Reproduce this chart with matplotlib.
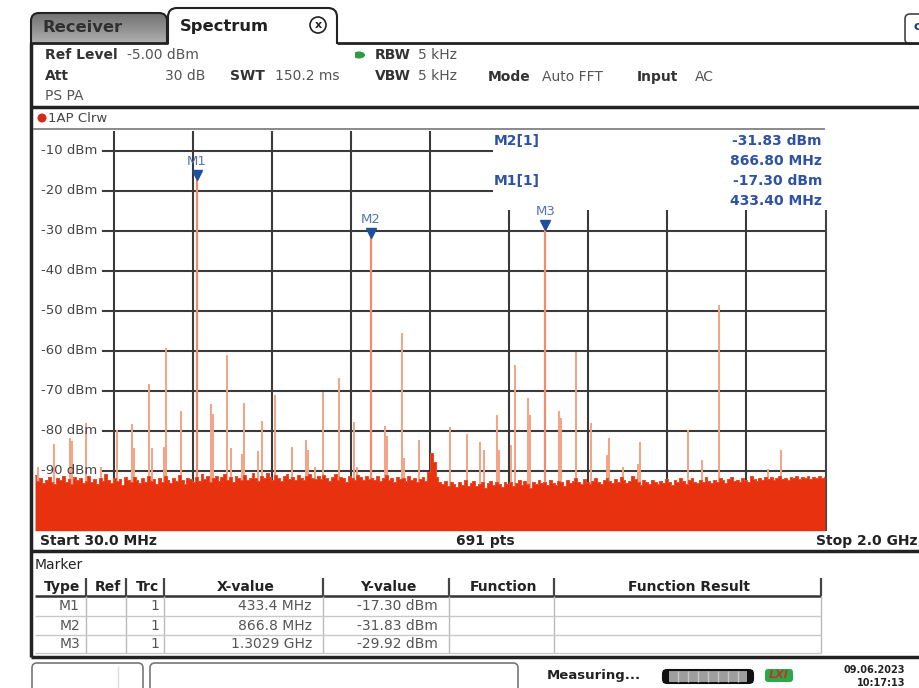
import numpy as np
import matplotlib.pyplot as plt
from matplotlib.colors import LinearSegmentedColormap
from matplotlib.patches import FancyBboxPatch, Rectangle, Circle, Ellipse

W, H = 919, 688

# sweep settings
f_start, f_stop = 30.0, 2000.0
ref_level = -5.0
bottom_level = -105.0

# noise floor (dBm), evenly spaced over the sweep
noise_dbm = [
    -91.0, -92.6, -91.9, -93.1, -92.2, -91.5, -92.8, -93.4, -91.8, -92.3, -91.2, -92.9, -92.0, -93.2, -91.6, -92.4, -91.9, -93.0, -92.5, -91.4,
    -92.7, -92.1, -93.3, -91.7, -92.5, -90.9, -92.2, -93.0, -91.8, -92.6, -92.0, -93.5, -91.6, -92.3, -92.9, -91.5, -92.4, -93.1, -91.9, -92.7,
    -91.3, -92.5, -92.0, -93.2, -91.7, -92.8, -91.4, -92.2, -93.0, -91.9, -92.6, -91.1, -92.4, -93.3, -91.8, -92.1, -92.9, -91.6, -92.5, -90.7,
    -92.0, -91.4, -92.7, -91.9, -91.2, -92.5, -91.6, -90.8, -92.2, -91.5, -92.8, -91.3, -91.9, -92.4, -91.0, -92.3, -91.7, -90.6, -91.8, -92.5,
    -91.2, -91.9, -90.5, -91.6, -92.3, -91.1, -91.8, -92.6, -91.4, -90.9, -92.0, -91.5, -92.2, -91.0, -91.7, -92.4, -91.3, -90.8, -91.9, -92.1,
    -91.4, -92.0, -91.1, -91.8, -92.5, -91.6, -90.9, -92.2, -91.5, -91.9, -92.7, -91.2, -91.8, -92.3, -91.0, -91.6, -92.4, -91.3, -92.0, -91.7,
    -92.2, -91.4, -92.6, -91.8, -91.1, -92.3, -91.7, -92.9, -91.5, -92.1, -91.9, -92.6, -91.3, -92.4, -91.8, -92.8, -92.1, -91.6, -92.5, -90.2,
    -85.5, -87.8, -91.5, -92.7, -93.4, -92.5, -93.8, -92.9, -93.3, -94.1, -92.8, -93.5, -92.4, -93.7, -93.0, -92.6, -93.9, -93.2, -92.7, -94.2,
    -93.1, -92.5, -93.6, -92.9, -93.3, -94.0, -92.7, -93.4, -92.8, -93.9, -93.0, -92.3, -93.5, -92.6, -93.2, -94.3, -92.9, -93.4, -92.4, -93.1,
    -92.8, -93.5, -92.2, -93.0, -93.6, -92.5, -92.9, -93.8, -92.4, -93.1, -92.6, -91.9, -92.8, -93.4, -92.1, -92.7, -93.3, -92.5, -91.8, -92.9,
    -93.2, -92.4, -91.7, -92.6, -93.1, -92.0, -92.8, -91.5, -92.3, -93.0, -92.6, -91.2, -92.1, -92.9, -93.5, -92.4, -92.8, -93.3, -92.2, -92.7,
    -93.4, -92.5, -93.0, -92.1, -92.8, -93.6, -92.3, -92.9, -91.8, -92.6, -93.2, -92.4, -91.9, -92.7, -93.1, -92.3, -92.8, -91.6, -92.5, -93.0,
    -92.2, -92.7, -91.9, -92.4, -93.1, -92.0, -91.5, -92.6, -92.2, -92.9, -91.8, -92.3, -92.7, -91.4, -92.1, -92.6, -91.7, -92.2, -91.5, -92.0,
    -91.6, -92.3, -91.8, -91.2, -92.0, -91.7, -92.4, -91.5, -91.9, -91.3, -92.1, -91.6, -91.9, -91.4, -92.0, -91.5, -91.8, -91.3, -91.7, -91.5,
]

# spurious lines (MHz, dBm)
spike_mhz = [37.5, 76.6, 118.0, 123.5, 157.9, 195.3, 234.5, 271.9, 276.1, 313.5,
             321.8, 350.9, 355.9, 394.8, 469.6, 473.9, 509.5, 519.5, 546.9, 551.2,
             585.4, 595.3, 628.5, 670.1, 705.8, 711.5, 728.2, 748.9, 788.1, 825.5,
             832.2, 902.8, 908.5, 944.4, 950.2, 987.6, 1064.1, 1107.3, 1140.5, 1148.9,
             1182.8, 1187.1, 1217.8, 1226.2, 1259.4, 1263.6, 1336.7, 1342.5, 1379.9, 1417.3,
             1457.2, 1461.4, 1496.3, 1534.5, 1538.7, 1659.2, 1693.3, 1736.5, 1857.2, 1890.4]
spike_dbm = [-89.0, -83.2, -81.7, -82.5, -78.0, -89.0, -79.8, -78.3, -84.4, -68.2,
             -84.3, -84.0, -59.2, -75.1, -73.2, -75.7, -61.1, -84.4, -85.7, -73.0,
             -85.1, -77.5, -71.1, -84.0, -82.2, -84.7, -89.0, -70.2, -66.9, -77.7,
             -89.0, -78.8, -81.2, -55.5, -86.9, -82.2, -79.0, -80.7, -82.8, -84.8,
             -76.1, -84.8, -83.6, -63.6, -71.9, -76.1, -75.1, -76.9, -60.2, -78.0,
             -86.0, -81.9, -89.0, -88.2, -82.8, -79.7, -87.3, -48.6, -89.5, -84.8]

marker_names = ["M1", "M2", "M3"]
marker_mhz = [433.4, 866.8, 1302.9]
marker_dbm = [-17.30, -31.83, -29.92]
marker_xval = ["433.4 MHz", "866.8 MHz", "1.3029 GHz"]
marker_yval = ["-17.30 dBm", "-31.83 dBm", "-29.92 dBm"]

grid_levels = [-10, -20, -30, -40, -50, -60, -70, -80, -90]

fig = plt.figure(figsize=(W / 100, H / 100), dpi=100)
bg = fig.add_axes([0, 0, 1, 1])
bg.set_xlim(0, W)
bg.set_ylim(H, 0)
bg.axis("off")

DARK = "#222222"


def txt(x, y, s, bold=False, size=10, color="#333333", ha="left"):
    bg.text(x, y, s, fontsize=size, fontweight="bold" if bold else "normal",
            color=color, ha=ha, va="center", zorder=4)


def hline(y, x0, x1, lw=2.0, color=DARK, z=3):
    bg.plot([x0, x1], [y, y], color=color, lw=lw, zorder=z, solid_capstyle="butt")


def vline(x, y0, y1, lw=2.0, color=DARK, z=3):
    bg.plot([x, x], [y0, y1], color=color, lw=lw, zorder=z, solid_capstyle="butt")


# --- tabs ---
rec = FancyBboxPatch((31, 13), 136, 40, boxstyle="round,pad=0,rounding_size=8",
                     fc="none", ec=DARK, lw=1.5, zorder=2)
bg.add_patch(rec)
grad = np.linspace(0, 1, 50).reshape(-1, 1)
tab_cmap = LinearSegmentedColormap.from_list("tab", ["#727272", "#9a9a9a", "#c4c4c4"])
im = bg.imshow(grad, extent=(31, 167, 53, 13), cmap=tab_cmap, aspect="auto", zorder=1)
im.set_clip_path(rec)
spec = FancyBboxPatch((168, 8), 169, 50, boxstyle="round,pad=0,rounding_size=9",
                      fc="white", ec=DARK, lw=1.5, zorder=2)
bg.add_patch(spec)
bg.add_patch(Rectangle((25, 44), 330, 20, fc="white", ec="none", zorder=2.5))
txt(42, 27, "Receiver", bold=True, size=11.8, color="#303030")
txt(180, 27, "Spectrum", bold=True, size=11.8, color="#202020")
bg.add_patch(Circle((318, 25), 8, fc="white", ec=DARK, lw=1.2, zorder=4))
bg.text(318, 25, "x", fontsize=8, fontweight="bold", ha="center", va="center", color=DARK, zorder=5)
bg.add_patch(FancyBboxPatch((905, 14), 20, 30, boxstyle="round,pad=0,rounding_size=5",
                            fc="white", ec="#444444", lw=1.2, zorder=3))
txt(913, 26, "c", bold=True, size=9, color="#1f3f80")

# frame lines
hline(43, 31, 168)
hline(43, 337, W)
hline(107, 31, W, lw=2.5)
vline(31, 43, 657, lw=2.5)
hline(128.5, 33, 825, lw=1.2, color="#777777")
vline(825.5, 210, 531, lw=1.5, color="#444444")
hline(551, 31, W, lw=2.5)
hline(656.5, 31, W, lw=2.5)

# --- header settings ---
txt(45, 55, "Ref Level", bold=True)
txt(127, 55, "-5.00 dBm", color="#555555")
txt(45, 76, "Att", bold=True)
txt(165, 76, "30 dB", color="#555555")
txt(230, 76, "SWT", bold=True)
txt(275, 76, "150.2 ms", color="#555555")
bg.add_patch(Ellipse((359, 55), 12, 7, fc="#2e9b45", ec="none"))
txt(375, 55, "RBW", bold=True)
txt(418, 55, "5 kHz", color="#555555")
txt(375, 76, "VBW", bold=True)
txt(418, 76, "5 kHz", color="#555555")
txt(488, 77, "Mode", bold=True)
txt(542, 77, "Auto FFT", color="#555555")
txt(637, 77, "Input", bold=True)
txt(695, 77, "AC", color="#555555")
txt(45, 96, "PS PA", color="#555555")
bg.add_patch(Circle((42, 118), 4.5, fc="#d42a1a", ec="none"))
txt(48, 118, "1AP Clrw", size=9.5, color="#444444")

# --- spectrum diagram ---
ax = fig.add_axes([35 / W, 1 - 530.7 / H, 790 / W, 400 / H])
ax.set_xlim(f_start, f_stop)
ax.set_ylim(bottom_level, ref_level)
ax.axis("off")

div = (f_stop - f_start) / 10
div_f = [f_start + div * k for k in range(1, 10)]
f_label_end = 196.0
f_box_left = 1172.0
ax.hlines(grid_levels[:2], f_label_end, f_box_left, color="#3a3a3a", lw=1.5, zorder=1)
ax.hlines(grid_levels[2:], f_label_end, f_stop, color="#3a3a3a", lw=1.5, zorder=1)
ax.vlines(div_f[:5], bottom_level, ref_level, color="#3a3a3a", lw=1.5, zorder=1)
ax.vlines(div_f[5:], bottom_level, -24.8, color="#3a3a3a", lw=1.5, zorder=1)

for lev in grid_levels:
    ax.text(0.007, lev, f"{lev} dBm", transform=ax.get_yaxis_transform(),
            fontsize=9.5, color="#444444", va="center", ha="left", zorder=6)

ax.vlines(spike_mhz, -95, spike_dbm, color="#f5a283", lw=1.4, zorder=2)
ax.vlines(marker_mhz, -95, marker_dbm, color="#f28c6a", lw=1.6, zorder=2)

noise_f = np.linspace(f_start, f_stop, len(noise_dbm))
ax.fill_between(noise_f, bottom_level, noise_dbm, step="mid", color="#e8320f", lw=0, zorder=3)
ax.step(noise_f, noise_dbm, where="mid", color="#ec4a28", lw=0.7, zorder=3)

ax.plot(marker_mhz, np.array(marker_dbm) + 1.3, "v", color="#1d4f9c", ms=7, zorder=5)
for name, f, lev in zip(marker_names, marker_mhz, marker_dbm):
    ax.annotate(name, (f, lev), xytext=(0, 13.5), textcoords="offset points",
                ha="center", va="center", color="#5773b5", fontsize=9.5, zorder=6)

# marker info box
blue = "#2f52a3"
txt(494, 141, "M2[1]", bold=True, color=blue)
txt(822, 141, "-31.83 dBm", bold=True, color=blue, ha="right")
txt(822, 161, "866.80 MHz", bold=True, color=blue, ha="right")
txt(494, 181, "M1[1]", bold=True, color=blue)
txt(822, 181, "-17.30 dBm", bold=True, color=blue, ha="right")
txt(822, 201, "433.40 MHz", bold=True, color=blue, ha="right")

# footer of diagram
txt(40, 541, "Start 30.0 MHz", bold=True, color=DARK)
txt(485, 541, "691 pts", bold=True, color=DARK, ha="center")
txt(917, 541, "Stop 2.0 GHz", bold=True, color=DARK, ha="right")

# --- marker table ---
txt(35, 565, "Marker", color=DARK)
cols = [35, 86, 126, 164, 323, 449, 554, 821]
heads = ["Type", "Ref", "Trc", "X-value", "Y-value", "Function", "Function Result"]
for i, h in enumerate(heads):
    txt((cols[i] + cols[i + 1]) / 2 + 2, 587, h, bold=True, color=DARK, ha="center")
hline(596, 35, 821, lw=1.8, color="#333333")
for c in cols[1:]:
    vline(c, 578, 596, lw=1.6, color="#444444")
    vline(c, 596, 653, lw=1.0, color="#bbbbbb")
for y in [616, 635, 653]:
    hline(y, 35, 821, lw=1.0, color="#c8c8c8")
for i, (nm, xv, yv) in enumerate(zip(marker_names, marker_xval, marker_yval)):
    y = 606.5 + i * 19
    txt(80, y, nm, color="#555555", ha="right")
    txt(159, y, "1", color="#555555", ha="right")
    txt(312, y, xv, color="#555555", ha="right")
    txt(438, y, yv, color="#555555", ha="right")

# --- status bar ---
for x0, x1 in [(32, 143), (150, 518)]:
    bg.add_patch(FancyBboxPatch((x0, 663), x1 - x0, 35, boxstyle="round,pad=0,rounding_size=5",
                                fc="white", ec="#777777", lw=1.2))
vline(118, 666, 688, lw=1.0, color="#dddddd")
txt(547, 676, "Measuring...", bold=True, size=9.5, color=DARK)
bg.add_patch(FancyBboxPatch((663, 670), 90, 13, boxstyle="round,pad=0,rounding_size=4",
                            fc="#9e9e9e", ec="#111111", lw=1.5))
bg.add_patch(Rectangle((663, 670), 6, 13, fc="#111111", ec="none"))
bg.add_patch(Rectangle((747, 670), 6, 13, fc="#111111", ec="none"))
for x in [678, 688, 698, 708, 718, 728, 738]:
    vline(x, 671, 682, lw=1.0, color="#c8c8c8")
bg.add_patch(FancyBboxPatch((765, 669), 28, 13, boxstyle="round,pad=0,rounding_size=3",
                            fc="#2aa84a", ec="none"))
bg.text(779, 675.5, "LXI", fontsize=8, fontweight="bold", fontstyle="italic",
        color="#c8302a", ha="center", va="center")
txt(905, 670, "09.06.2023", bold=True, size=7, color=DARK, ha="right")
txt(905, 683, "10:17:13", bold=True, size=7, color=DARK, ha="right")

fig.savefig("out.png", dpi=100)
